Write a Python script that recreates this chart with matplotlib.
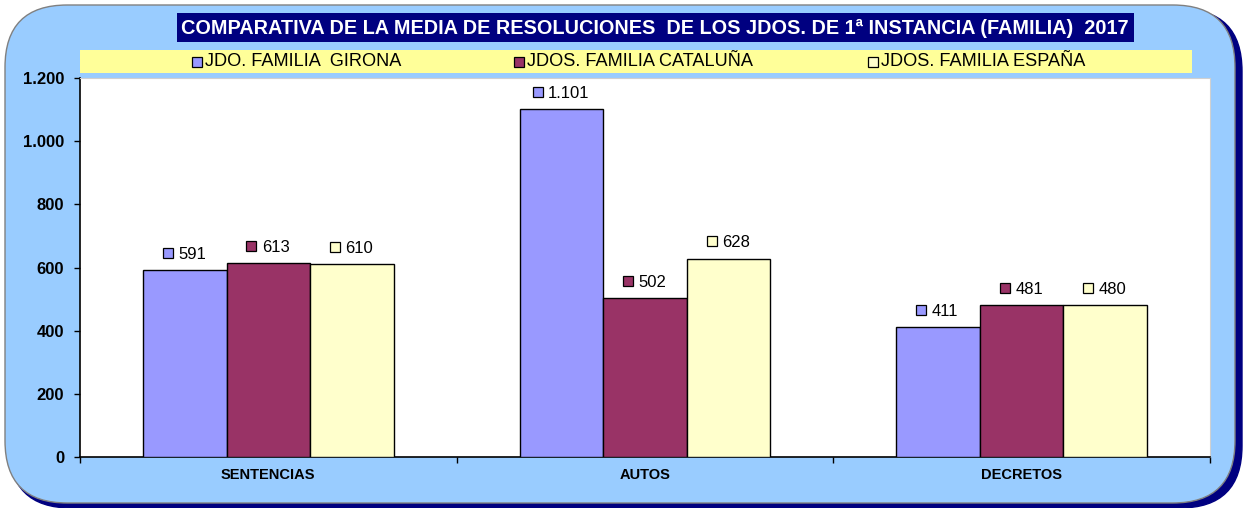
import numpy as np
import matplotlib
matplotlib.use('Agg')
import matplotlib.pyplot as plt
import matplotlib.transforms as mtrans
from matplotlib.patches import FancyBboxPatch, Rectangle
from matplotlib.ticker import FuncFormatter, MultipleLocator

plt.rcParams['font.family'] = ['Liberation Sans', 'DejaVu Sans']

# Datos
categorias = ['SENTENCIAS', 'AUTOS', 'DECRETOS']
series = ['JDO. FAMILIA  GIRONA', 'JDOS. FAMILIA CATALUÑA', 'JDOS. FAMILIA ESPAÑA']
girona = [591, 1101, 411]
cataluna = [613, 502, 481]
espana = [610, 628, 480]
colores = ['#9999FF', '#993366', '#FFFFCC']
titulo = 'COMPARATIVA DE LA MEDIA DE RESOLUCIONES  DE LOS JDOS. DE 1ª INSTANCIA (FAMILIA)  2017'

W, H = 1244, 508
DPI = 100
fig = plt.figure(figsize=(W / DPI, H / DPI), dpi=DPI)
fig.patch.set_facecolor('white')

def fx(px):
    return px / W

def fy(py):
    return 1 - py / H

# Fondo redondeado con sombra
sombra = FancyBboxPatch((fx(9), fy(508)), fx(1233), fy(9) - fy(508),
                        boxstyle='round,pad=0,rounding_size=0.05', transform=fig.transFigure,
                        facecolor='#000080', edgecolor='#000080', mutation_aspect=W / H, zorder=0)
fondo = FancyBboxPatch((fx(5), fy(503)), fx(1230), fy(5) - fy(503),
                       boxstyle='round,pad=0,rounding_size=0.05', transform=fig.transFigure,
                       facecolor='#99CCFF', edgecolor='#808080', lw=1, mutation_aspect=W / H, zorder=0)
fig.add_artist(sombra)
fig.add_artist(fondo)

# Titulo
fig.add_artist(Rectangle((fx(177), fy(42)), fx(957), fy(13) - fy(42), transform=fig.transFigure,
                         facecolor='#000080', edgecolor='none', zorder=1))
fig.text(fx(655), fy(28), titulo, color='white', fontsize=14.3, fontweight='bold',
         ha='center', va='center', zorder=2)

# Leyenda
fig.add_artist(Rectangle((fx(80), fy(73)), fx(1112), fy(50) - fy(73), transform=fig.transFigure,
                         facecolor='#FFFF99', edgecolor='none', zorder=1))
leg_x = [192, 514, 868]
for x0, nombre, c in zip(leg_x, series, colores):
    fig.add_artist(Rectangle((fx(x0), fy(67)), fx(10), fy(57) - fy(67), transform=fig.transFigure,
                             facecolor=c, edgecolor='black', lw=0.9, zorder=2))
    fig.text(fx(x0 + 13), fy(62), nombre, fontsize=13.1, ha='left', va='center', zorder=2)

# Grafico
ax = fig.add_axes([fx(80), fy(457), fx(1130), fy(78) - fy(457)])
ax.set_facecolor('white')
x = np.arange(len(categorias))
ancho = 0.222
fs_lab = 12
em = fs_lab * DPI / 72


def desplazar(dx, dy):
    return ax.transData + mtrans.ScaledTranslation(dx / DPI, dy / DPI, fig.dpi_scale_trans)


for i, (vals, c) in enumerate(zip([girona, cataluna, espana], colores)):
    pos = x + (i - 1) * ancho
    ax.bar(pos, vals, ancho, color=c, edgecolor='black', linewidth=1, zorder=3)
    for p, v in zip(pos, vals):
        txt = f'{v:,}'.replace(',', '.')
        tw = sum(0.278 if ch == '.' else 0.556 for ch in txt) * em
        izq = -(9 + 6 + tw) / 2
        ax.text(p, v, txt, fontsize=fs_lab, ha='left', va='center',
                transform=desplazar(izq + 15, 16), zorder=4)
        ax.plot([p], [v], marker='s', ms=6.5, mfc=c, mec='black', mew=0.9, ls='none',
                transform=desplazar(izq + 4.5, 17.5), clip_on=False, zorder=4)

ax.set_xlim(-0.5, 2.5)
ax.set_ylim(0, 1200)
ax.yaxis.set_major_locator(MultipleLocator(200))
ax.yaxis.set_major_formatter(FuncFormatter(lambda v, p: f'{int(v):,}'.replace(',', '.')))
ax.set_xticks([-0.5, 0.5, 1.5, 2.5])
ax.set_xticklabels([])
ax.set_xticks(x, minor=True)
ax.set_xticklabels(categorias, minor=True, fontsize=10.5, fontweight='bold')
ax.tick_params(axis='x', which='minor', length=0, pad=8)
ax.tick_params(axis='x', which='major', length=4, direction='out', width=1)
ax.tick_params(axis='y', length=4.3, direction='out', width=1, labelsize=12, pad=7)
for lab in ax.get_yticklabels():
    lab.set_fontweight('bold')
ax.spines['top'].set_color('#d0d0d0')
ax.spines['right'].set_color('#d0d0d0')
ax.spines['left'].set_linewidth(1.2)
ax.spines['bottom'].set_linewidth(1.2)

plt.savefig('out.png', dpi=DPI)
